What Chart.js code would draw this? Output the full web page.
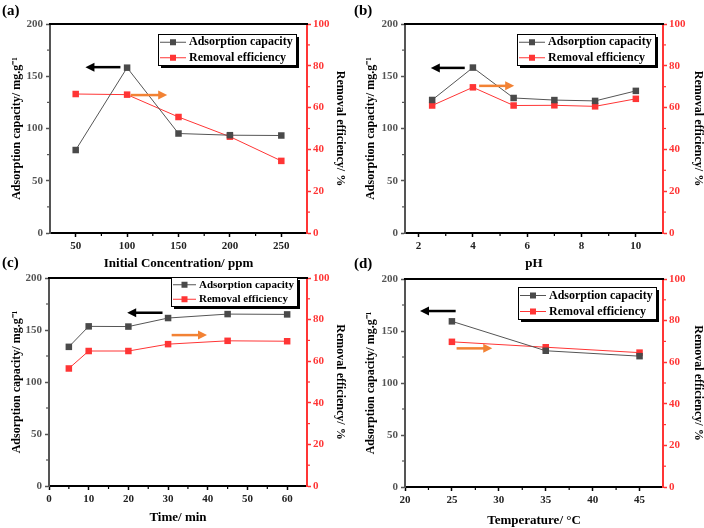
<!DOCTYPE html>
<html>
<head>
<meta charset="utf-8">
<script src="https://cdn.jsdelivr.net/npm/chart.js@4.4.0/dist/chart.umd.min.js"></script>
<style>
  html, body { margin: 0; padding: 0; background: #fff; }
  #wrap { position: relative; width: 704px; height: 528px; overflow: hidden; }
  canvas { position: absolute; }
</style>
</head>
<body>
<div id="wrap">
  <canvas id="chartA" width="352" height="272" style="left:0;top:0"></canvas>
  <canvas id="chartB" width="352" height="272" style="left:352px;top:0"></canvas>
  <canvas id="chartC" width="352" height="278" style="left:0;top:250px"></canvas>
  <canvas id="chartD" width="352" height="278" style="left:352px;top:250px"></canvas>
</div>
<script>
// ---- datos ----
const concX = [50, 100, 150, 200, 250];
const concCapacity = [79.4, 158.2, 95.2, 93.6, 93.3];
const concRemoval = [66.5, 66.2, 55.5, 46.1, 34.5];

const phX = [2.5, 4, 5.5, 7, 8.5, 10];
const phCapacity = [127.3, 158.3, 129.2, 127.2, 126.4, 136.0];
const phRemoval = [61.0, 69.7, 61.0, 61.1, 60.6, 64.2];

const timeX = [5, 10, 20, 30, 45, 60];
const timeCapacity = [133.8, 153.5, 153.3, 161.5, 165.3, 165.0];
const timeRemoval = [56.5, 64.9, 64.9, 68.2, 69.8, 69.6];

const tempX = [25, 35, 45];
const tempCapacity = [159.3, 131.0, 125.8];
const tempRemoval = [69.8, 67.2, 64.6];

// ticks
const capTicks = [0, 50, 100, 150, 200];
const capMinor = [25, 75, 125, 175];
const remTicks = [0, 20, 40, 60, 80, 100];
const remMinor = [10, 30, 50, 70, 90];
const concTicks = [50, 100, 150, 200, 250];
const concMinor = [75, 125, 175, 225];
const phTicks = [2, 4, 6, 8, 10];
const phMinor = [3, 5, 7, 9];
const timeTicks = [0, 10, 20, 30, 40, 50, 60];
const timeMinor = [5, 15, 25, 35, 45, 55];
const tempTicks = [20, 25, 30, 35, 40, 45];
const tempMinor = [22.5, 27.5, 32.5, 37.5, 42.5];

const seriesLabels = ['Adsorption capacity', 'Removal efficiency'];

const FONT = "'Liberation Serif', 'Times New Roman', serif";
const GRAY = '#555555';
const RED = '#ff3535';
const ORANGE = '#f28234';

// dibuja marco superior, ticks menores, flechas, leyenda y etiqueta del panel
const decorPlugin = {
  id: 'decor',
  afterDatasetsDraw(chart, args, opts) {
    const { ctx, chartArea: a, scales } = chart;
    ctx.save();

    // marco superior
    ctx.strokeStyle = '#000';
    ctx.lineWidth = 2;
    ctx.beginPath();
    ctx.moveTo(a.left - 1, a.top);
    ctx.lineTo(a.right + 1, a.top);
    ctx.stroke();

    // ticks menores
    ctx.lineWidth = 1.2;
    ctx.strokeStyle = '#000';
    opts.xMinor.forEach(v => {
      const px = scales.x.getPixelForValue(v);
      ctx.beginPath(); ctx.moveTo(px, a.bottom); ctx.lineTo(px, a.bottom + 3); ctx.stroke();
    });
    ctx.strokeStyle = GRAY;
    capMinor.forEach(v => {
      const py = scales.y.getPixelForValue(v);
      ctx.beginPath(); ctx.moveTo(a.left, py); ctx.lineTo(a.left - 3, py); ctx.stroke();
    });
    ctx.strokeStyle = RED;
    remMinor.forEach(v => {
      const py = scales.y1.getPixelForValue(v);
      ctx.beginPath(); ctx.moveTo(a.right, py); ctx.lineTo(a.right + 3, py); ctx.stroke();
    });

    // flechas
    opts.arrows.forEach(ar => {
      const x1 = scales.x.getPixelForValue(ar.from);
      const x2 = scales.x.getPixelForValue(ar.to);
      const y = scales.y.getPixelForValue(ar.at);
      const dir = x2 > x1 ? 1 : -1;
      ctx.strokeStyle = ar.color;
      ctx.fillStyle = ar.color;
      ctx.lineWidth = 2.5;
      ctx.beginPath(); ctx.moveTo(x1, y); ctx.lineTo(x2 - dir * 6, y); ctx.stroke();
      ctx.beginPath();
      ctx.moveTo(x2, y);
      ctx.lineTo(x2 - dir * 9, y - 4.5);
      ctx.lineTo(x2 - dir * 9, y + 4.5);
      ctx.closePath();
      ctx.fill();
    });

    // leyenda
    const lg = opts.legend;
    ctx.font = `bold ${lg.size}px ${FONT}`;
    const tw = Math.max(...chart.data.datasets.map(d => ctx.measureText(d.label).width));
    const w = Math.round(lg.textX + tw + 3);
    const h = lg.h;
    const bx = Math.round(a.right - lg.gapR - w);
    const by = Math.round(a.top + lg.gapT);
    ctx.fillStyle = '#000';
    ctx.fillRect(bx + 3, by + 3, w, h);
    ctx.fillStyle = '#fff';
    ctx.fillRect(bx, by, w, h);
    ctx.strokeStyle = '#000';
    ctx.lineWidth = 1;
    ctx.strokeRect(bx + 0.5, by + 0.5, w, h);
    const lineEnd = lg.textX - 3;
    chart.data.datasets.forEach((d, i) => {
      const cy = by + h * (2 * i + 1) / 4 + 0.5;
      ctx.strokeStyle = d.borderColor;
      ctx.lineWidth = 1;
      ctx.beginPath(); ctx.moveTo(bx + 2, cy); ctx.lineTo(bx + lineEnd, cy); ctx.stroke();
      ctx.fillStyle = d.backgroundColor;
      const mx = bx + (2 + lineEnd) / 2;
      ctx.fillRect(mx - 3, cy - 3, 6, 6);
      ctx.fillStyle = '#000';
      ctx.textAlign = 'left';
      ctx.textBaseline = 'middle';
      ctx.fillText(d.label, bx + lg.textX, cy);
    });

    // etiqueta del panel
    ctx.font = `bold 15px ${FONT}`;
    ctx.fillStyle = '#000';
    ctx.textAlign = 'left';
    ctx.textBaseline = 'middle';
    ctx.fillText(opts.label, 2, opts.labelY);
    ctx.restore();
  }
};

function tickFont() {
  return { family: FONT, size: 11, weight: 'bold' };
}

function buildPanel(id, p) {
  const ctx = document.getElementById(id).getContext('2d');
  const cap = p.xs.map((v, i) => ({ x: v, y: p.cap[i] }));
  const rem = p.xs.map((v, i) => ({ x: v, y: p.rem[i] }));
  return new Chart(ctx, {
    type: 'line',
    data: {
      datasets: [
        {
          label: seriesLabels[0], data: cap, yAxisID: 'y',
          borderColor: GRAY, backgroundColor: '#4a4a4a', borderWidth: 1,
          pointStyle: 'rect', pointRadius: 4.6, pointBorderWidth: 0, tension: 0
        },
        {
          label: seriesLabels[1], data: rem, yAxisID: 'y1',
          borderColor: RED, backgroundColor: RED, borderWidth: 1,
          pointStyle: 'rect', pointRadius: 4.6, pointBorderWidth: 0, tension: 0
        }
      ]
    },
    options: {
      responsive: false,
      animation: false,
      events: [],
      layout: { padding: { top: p.top, left: 0, right: 0, bottom: 0 } },
      plugins: {
        legend: { display: false },
        tooltip: { enabled: false },
        decor: { arrows: p.arrows, legend: p.legend, label: p.label, labelY: p.labelY, xMinor: p.xMinor }
      },
      scales: {
        x: {
          type: 'linear', position: 'bottom', min: p.xMin, max: p.xMax,
          afterBuildTicks: s => { s.ticks = p.xTicks.map(v => ({ value: v })); },
          afterFit: s => { s.height = p.bottomH; },
          grid: { drawOnChartArea: false, tickLength: 4, tickColor: '#000', tickWidth: 1.5 },
          border: { color: '#000', width: 2 },
          ticks: { font: tickFont(), color: '#222', padding: 3, maxRotation: 0, autoSkip: false },
          title: {
            display: true, text: p.xTitle, color: '#000',
            font: { family: FONT, size: 13, weight: 'bold', lineHeight: 1 },
            padding: { top: 0, bottom: p.xTitlePad }
          }
        },
        y: {
          type: 'linear', position: 'left', min: 0, max: 200,
          afterBuildTicks: s => { s.ticks = capTicks.map(v => ({ value: v })); },
          afterFit: s => { s.width = p.leftW; },
          grid: { drawOnChartArea: false, tickLength: 4, tickColor: GRAY, tickWidth: 1.5 },
          border: { color: GRAY, width: 2 },
          ticks: { font: tickFont(), color: GRAY, padding: 3 },
          title: {
            display: true, text: 'Adsorption capacity/ mg.g\u207B\u00B9', color: '#000',
            font: { family: FONT, size: 12, weight: 'bold', lineHeight: 1 },
            padding: { top: p.leftTitlePad, bottom: 0 }
          }
        },
        y1: {
          type: 'linear', position: 'right', min: 0, max: 100,
          afterBuildTicks: s => { s.ticks = remTicks.map(v => ({ value: v })); },
          afterFit: s => { s.width = p.rightW; },
          grid: { drawOnChartArea: false, tickLength: 4, tickColor: RED, tickWidth: 1.5 },
          border: { color: RED, width: 2 },
          ticks: { font: tickFont(), color: RED, padding: 2 },
          title: {
            display: true, text: 'Removal efficiency/ %', color: '#000',
            font: { family: FONT, size: 12, weight: 'bold', lineHeight: 1 },
            padding: { top: p.rightTitlePad, bottom: 0 }
          }
        }
      }
    },
    plugins: [decorPlugin]
  });
}

// (a) concentracion inicial
buildPanel('chartA', {
  xs: concX, cap: concCapacity, rem: concRemoval,
  xMin: 25, xMax: 275, xTicks: concTicks, xMinor: concMinor,
  xTitle: 'Initial Concentration/ ppm',
  top: 24, leftW: 50, rightW: 45, bottomH: 39, xTitlePad: 2,
  leftTitlePad: 11, rightTitlePad: 6,
  label: '(a)', labelY: 11,
  legend: { gapR: 11, gapT: 10, h: 31, size: 12, textX: 31 },
  arrows: [
    { from: 93.5, to: 59.5, at: 158.7, color: '#000' },
    { from: 103.5, to: 139, at: 132, color: ORANGE }
  ]
});

// (b) pH
buildPanel('chartB', {
  xs: phX, cap: phCapacity, rem: phRemoval,
  xMin: 1.5, xMax: 11, xTicks: phTicks, xMinor: phMinor,
  xTitle: 'pH',
  top: 24, leftW: 53, rightW: 41, bottomH: 39, xTitlePad: 2,
  leftTitlePad: 13, rightTitlePad: 0,
  label: '(b)', labelY: 11,
  legend: { gapR: 8, gapT: 10, h: 31, size: 12, textX: 31 },
  arrows: [
    { from: 3.7, to: 2.45, at: 158, color: '#000' },
    { from: 4.23, to: 5.52, at: 140.8, color: ORANGE }
  ]
});

// (c) tiempo
buildPanel('chartC', {
  xs: timeX, cap: timeCapacity, rem: timeRemoval,
  xMin: 0, xMax: 65, xTicks: timeTicks, xMinor: timeMinor,
  xTitle: 'Time/ min',
  top: 28, leftW: 49, rightW: 45, bottomH: 42, xTitlePad: 4,
  leftTitlePad: 11, rightTitlePad: 6,
  label: '(c)', labelY: 13,
  legend: { gapR: 10, gapT: -1, h: 29, size: 11, textX: 28 },
  arrows: [
    { from: 28.6, to: 19.7, at: 166.6, color: '#000' },
    { from: 30.9, to: 39.8, at: 145.1, color: ORANGE }
  ]
});

// (d) temperatura
buildPanel('chartD', {
  xs: tempX, cap: tempCapacity, rem: tempRemoval,
  xMin: 20, xMax: 47.5, xTicks: tempTicks, xMinor: tempMinor,
  xTitle: 'Temperature/ \u00B0C',
  top: 29, leftW: 53, rightW: 41, bottomH: 41, xTitlePad: 1,
  leftTitlePad: 13, rightTitlePad: 0,
  label: '(d)', labelY: 14,
  legend: { gapR: 7, gapT: 8, h: 32, size: 12, textX: 31 },
  arrows: [
    { from: 25.4, to: 21.6, at: 169.2, color: '#000' },
    { from: 25.5, to: 29.3, at: 133.3, color: ORANGE }
  ]
});
</script>
</body>
</html>
